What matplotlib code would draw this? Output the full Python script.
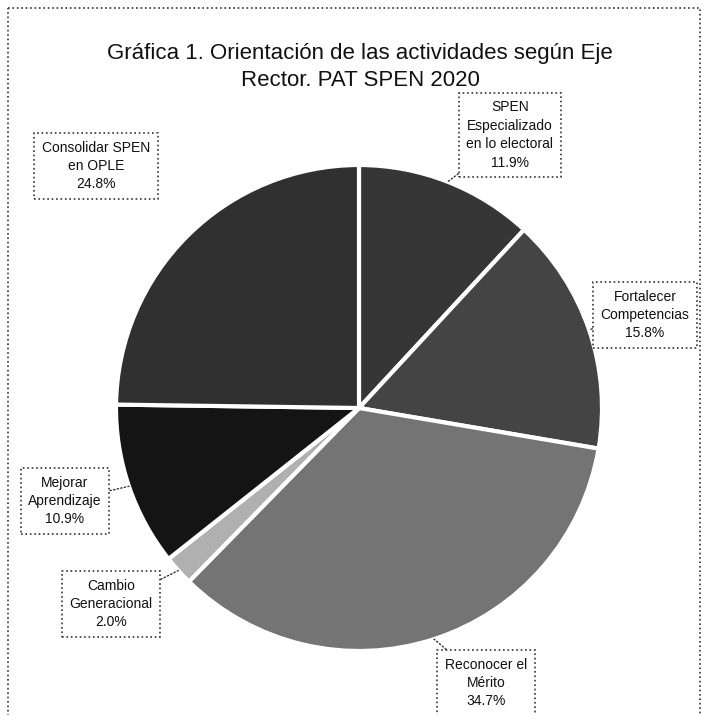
import numpy as np
import matplotlib
matplotlib.use('Agg')
import matplotlib.pyplot as plt
from matplotlib.patches import Rectangle
from matplotlib import font_manager

names = {f.name for f in font_manager.fontManager.ttflist}
narrow = [n for n in ['Liberation Sans Narrow', 'DejaVu Sans Condensed'] if n in names]
plt.rcParams['font.family'] = narrow + ['Liberation Sans', 'DejaVu Sans']

labels = ['SPEN\nEspecializado\nen lo electoral', 'Fortalecer\nCompetencias',
          'Reconocer el\nMérito', 'Cambio\nGeneracional',
          'Mejorar\nAprendizaje', 'Consolidar SPEN\nen OPLE']
values = [11.9, 15.8, 34.7, 2.0, 10.9, 24.8]
colors = ['#363636', '#444444', '#747474', '#b0b0b0', '#141414', '#303030']
# label box centres (pixel coords of the page)
box_xy = [(510, 135), (645, 315), (486, 683), (111, 604), (65, 501), (96, 166)]
show_leader = [True, True, True, True, True, False]

W, H = 701, 715
fig = plt.figure(figsize=(W / 100, H / 100), dpi=100)
ax = fig.add_axes([0, 0, 1, 1])

cx, cy, r = 359, 408, 243
# y axis is inverted below, so run the pie the other way in data space
wedges, _ = ax.pie(values, colors=colors, startangle=-90, counterclock=True,
                   center=(cx, cy), radius=r, frame=True,
                   wedgeprops=dict(edgecolor='white', linewidth=3))
ax.set_xlim(0, W)
ax.set_ylim(H, 0)
ax.set_aspect('auto')
ax.axis('off')

# outer dotted frame
ax.add_patch(Rectangle((8, 8), W - 9, H + 20, fill=False, linestyle=':',
                       linewidth=1.2, edgecolor='#333333'))

ax.text(360, 67, 'Gráfica 1. Orientación de las actividades según Eje\nRector. PAT SPEN 2020',
        ha='center', va='center', fontsize=16, linespacing=1.4, color='#111111')

for w, lab, v, (bx, by), lead in zip(wedges, labels, values, box_xy, show_leader):
    ang = np.deg2rad((w.theta1 + w.theta2) / 2)
    px = cx + r * np.cos(ang)
    py = cy + r * np.sin(ang)
    txt = lab + '\n' + ('%.1f%%' % v)
    kw = dict(ha='center', va='center', fontsize=10, linespacing=1.4,
              color='#111111',
              bbox=dict(boxstyle='square,pad=0.55', facecolor='white',
                        edgecolor='#333333', linestyle=':', linewidth=1.2))
    if lead:
        ax.annotate(txt, xy=(px, py), xytext=(bx, by),
                    arrowprops=dict(arrowstyle='-', color='#333333', lw=1,
                                    linestyle=':', shrinkA=0, shrinkB=0),
                    **kw)
    else:
        ax.text(bx, by, txt, **kw)

fig.savefig('out.png', dpi=100)
